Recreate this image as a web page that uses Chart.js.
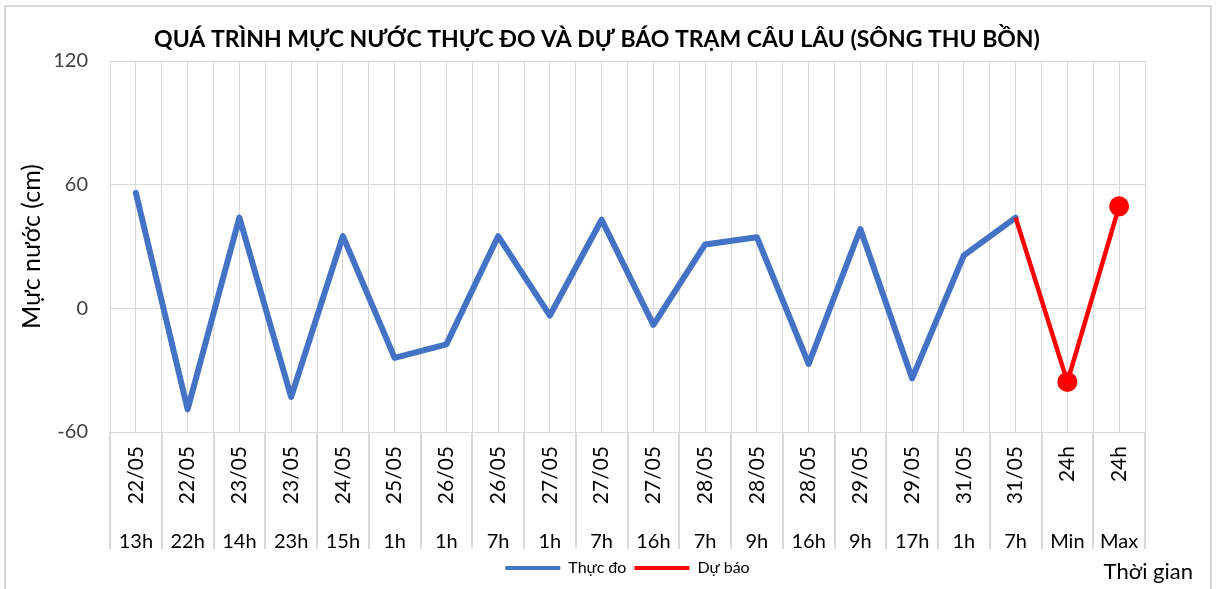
<!DOCTYPE html>
<html>
<head>
<meta charset="utf-8">
<script src="https://cdn.jsdelivr.net/npm/chart.js@4"></script>
<style>
  html, body { margin: 0; padding: 0; background: #fff; }
  #wrap { position: relative; width: 1217px; height: 589px; overflow: hidden; }
  #frame { position: absolute; left: 4px; top: 5px; width: 1208px; height: 600px;
           border: 2px solid #d9d9d9; box-sizing: border-box; }
  #c { position: absolute; left: 0; top: 0; }
</style>
</head>
<body>
<div id="wrap">
  <div id="frame"></div>
  <canvas id="c" width="1217" height="589"></canvas>
</div>
<script>
// categories: date row and hour row of the x axis table
const dates = ['22/05','22/05','23/05','23/05','24/05','25/05','26/05','26/05','27/05','27/05',
               '27/05','28/05','28/05','28/05','29/05','29/05','31/05','31/05','24h','24h'];
const hours = ['13h','22h','14h','23h','15h','1h','1h','7h','1h','7h',
               '16h','7h','9h','16h','9h','17h','1h','7h','Min','Max'];

// water level (cm)
const measured = [56, -49, 44, -43, 35, -24, -17.5, 35, -3.5, 43,
                  -8, 31, 34.5, -27, 38.5, -34, 25.7, 44, null, null];
const forecast = [null, null, null, null, null, null, null, null, null, null,
                  null, null, null, null, null, null, null, 44, -35.7, 49.5];

const yTicks = [-60, 0, 60, 120];

Chart.defaults.font.family = 'Lato';
Chart.defaults.color = '#000';

const gridCol = '#d9d9d9';

// table separators under the plot + "Thời gian" label
const tableLines = {
  id: 'tableLines',
  afterDraw(chart) {
    const ctx = chart.ctx;
    const xs = chart.scales.x;
    const xh = chart.scales.xh;
    const step = xs.getPixelForValue(1) - xs.getPixelForValue(0);
    ctx.save();
    ctx.strokeStyle = gridCol;
    ctx.lineWidth = 2;
    for (let i = 0; i <= dates.length; i++) {
      const px = Math.round(xs.getPixelForValue(i) - step / 2);
      ctx.beginPath();
      ctx.moveTo(px, chart.chartArea.bottom);
      ctx.lineTo(px, xh.bottom - 3);
      ctx.stroke();
    }
    ctx.fillStyle = '#000';
    ctx.font = '22px Lato';
    ctx.textAlign = 'right';
    ctx.textBaseline = 'middle';
    ctx.fillText('Thời gian', chart.chartArea.right + 48, 572);
    ctx.restore();
  }
};

new Chart(document.getElementById('c'), {
  type: 'line',
  data: {
    labels: dates,
    datasets: [
      {
        label: 'Thực đo',
        data: measured,
        borderColor: '#4472c4',
        backgroundColor: '#4472c4',
        borderWidth: 6,
        borderJoinStyle: 'round',
        borderCapStyle: 'round',
        pointRadius: 0,
        order: 2
      },
      {
        label: 'Dự báo',
        data: forecast,
        borderColor: '#ff0000',
        backgroundColor: '#ff0000',
        borderWidth: 4.5,
        borderJoinStyle: 'round',
        pointRadius: ctx => (ctx.dataIndex >= 18 ? 10 : 0),
        pointBackgroundColor: '#ff0000',
        pointBorderWidth: 0,
        order: 1
      }
    ]
  },
  options: {
    responsive: false,
    animation: false,
    devicePixelRatio: 1,
    layout: { padding: { left: 17, right: 40, top: 0, bottom: 3 } },
    plugins: {
      title: {
        display: true,
        text: 'QUÁ TRÌNH MỰC NƯỚC THỰC ĐO VÀ DỰ BÁO TRẠM CÂU LÂU (SÔNG THU BỒN)',
        font: { size: 23, weight: 'bold' },
        color: '#000',
        padding: { top: 26, bottom: 7.4 }
      },
      legend: {
        position: 'bottom',
        fullSize: false,
        labels: {
          boxWidth: 55,
          boxHeight: 4,
          padding: 8,
          font: { size: 16 },
          color: '#000',
          sort: (a, b) => a.datasetIndex - b.datasetIndex,
          generateLabels: chart =>
            Chart.defaults.plugins.legend.labels.generateLabels(chart).map(l => ({ ...l, lineWidth: 0 }))
        }
      },
      tooltip: { enabled: false }
    },
    scales: {
      x: {
        type: 'category',
        labels: dates,
        position: 'bottom',
        weight: 1,
        offset: true,
        grid: { offset: true, color: gridCol, drawTicks: false },
        border: { color: gridCol },
        ticks: { autoSkip: false, minRotation: 90, maxRotation: 90, padding: 14, font: { size: 21 }, color: '#000' },
        afterFit: s => { s.height = 85; }
      },
      xh: {
        type: 'category',
        labels: hours,
        position: 'bottom',
        weight: 2,
        offset: true,
        grid: { display: false },
        border: { display: false },
        ticks: { autoSkip: false, maxRotation: 0, padding: 5, font: { size: 20 }, color: '#000' },
        afterFit: s => { s.height = 35; }
      },
      xc: {
        type: 'category',
        labels: dates,
        position: 'bottom',
        weight: 0,
        offset: true,
        grid: { offset: false, color: gridCol, drawTicks: false },
        border: { display: false },
        ticks: { display: false },
        afterFit: s => { s.height = 0; }
      },
      y: {
        min: yTicks[0],
        max: yTicks[yTicks.length - 1],
        afterBuildTicks: s => { s.ticks = yTicks.map(v => ({ value: v })); },
        grid: { color: gridCol, drawTicks: false },
        border: { display: false },
        ticks: { padding: 22, font: { size: 20 }, color: '#404040' },
        title: { display: true, text: 'Mực nước (cm)', font: { size: 25 }, color: '#000', padding: { top: 0, bottom: 0 } },
        afterFit: s => { s.width = 93; }
      },
      yr: {
        position: 'right',
        grid: { display: false },
        border: { display: false },
        ticks: { display: false },
        afterFit: s => { s.width = 32; }
      }
    }
  },
  plugins: [tableLines]
});
</script>
</body>
</html>
